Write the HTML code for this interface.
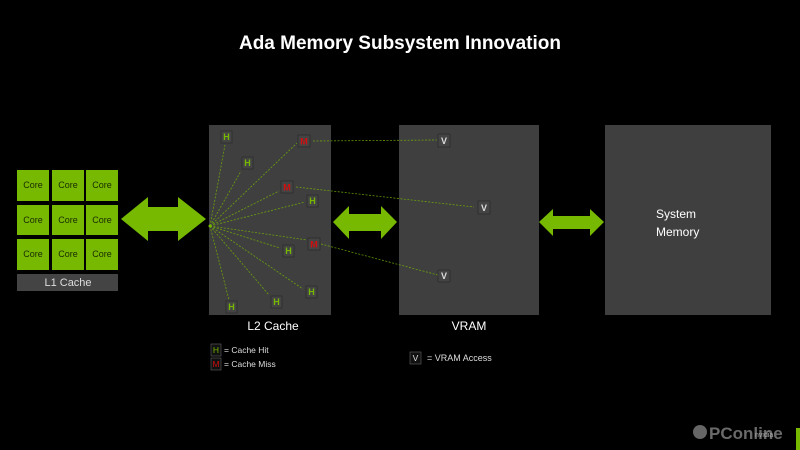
<!DOCTYPE html>
<html><head><meta charset="utf-8"><style>
html,body{margin:0;padding:0;background:#000;}
svg{display:block;font-family:"Liberation Sans",sans-serif;}
</style></head><body>
<svg width="800" height="450" viewBox="0 0 800 450" xmlns="http://www.w3.org/2000/svg">
<rect width="800" height="450" fill="#000"/>
<text x="400" y="49" fill="#fff" font-size="19" font-weight="bold" text-anchor="middle">Ada Memory Subsystem Innovation</text>
<g fill="#76b900">
<rect x="17" y="170" width="32" height="31"/><rect x="52" y="170" width="32" height="31"/><rect x="86" y="170" width="32" height="31"/>
<rect x="17" y="205" width="32" height="30"/><rect x="52" y="205" width="32" height="30"/><rect x="86" y="205" width="32" height="30"/>
<rect x="17" y="239" width="32" height="31"/><rect x="52" y="239" width="32" height="31"/><rect x="86" y="239" width="32" height="31"/>
</g>
<g fill="#1a2a00" font-size="9" text-anchor="middle">
<text x="33" y="188">Core</text><text x="68" y="188">Core</text><text x="102" y="188">Core</text>
<text x="33" y="223">Core</text><text x="68" y="223">Core</text><text x="102" y="223">Core</text>
<text x="33" y="257">Core</text><text x="68" y="257">Core</text><text x="102" y="257">Core</text>
</g>
<rect x="17" y="274" width="101" height="17" fill="#444"/>
<text x="68" y="286" fill="#ddd" font-size="11" text-anchor="middle">L1 Cache</text>
<polygon fill="#76b900" points="121,219 148,197 148,207 178,207 178,197 206,219 178,241 178,231 148,231 148,241"/>
<polygon fill="#76b900" points="333,222 349,206 349,214 381,214 381,206 397,222 381,239 381,231 349,231 349,239"/>
<polygon fill="#76b900" points="539,222 553,209 553,216 590,216 590,209 604,222 590,236 590,229 553,229 553,236"/>
<rect x="209" y="125" width="122" height="190" fill="#3f3f3f"/>
<rect x="399" y="125" width="140" height="190" fill="#3f3f3f"/>
<rect x="605" y="125" width="166" height="190" fill="#3f3f3f"/>
<text x="656" y="218" fill="#fff" font-size="12">System</text>
<text x="656" y="236" fill="#fff" font-size="12">Memory</text>
<text x="273" y="330" fill="#fff" font-size="12" text-anchor="middle">L2 Cache</text>
<text x="469" y="330" fill="#fff" font-size="12" text-anchor="middle">VRAM</text>
<g stroke="#76b900" stroke-width="0.8" stroke-dasharray="2,1.5" opacity="0.8" fill="none">
<line x1="210" y1="226" x2="225" y2="145"/>
<line x1="210" y1="226" x2="297" y2="143"/>
<line x1="210" y1="226" x2="241" y2="171"/>
<line x1="210" y1="226" x2="279" y2="191"/>
<line x1="210" y1="226" x2="305" y2="202"/>
<line x1="210" y1="226" x2="307" y2="240"/>
<line x1="210" y1="226" x2="280" y2="248"/>
<line x1="210" y1="226" x2="303" y2="289"/>
<line x1="210" y1="226" x2="229" y2="300"/>
<line x1="210" y1="226" x2="269" y2="295"/>
<line x1="313" y1="141" x2="437" y2="140"/>
<line x1="296" y1="187" x2="474" y2="207"/>
<line x1="321" y1="244" x2="438" y2="275"/>
</g>
<circle cx="210" cy="226" r="1.5" fill="#76b900"/>
<g font-size="9" font-weight="bold" text-anchor="middle">
<g fill="#444" stroke="#2a2a2a" stroke-width="0.7">
<rect x="221" y="131" width="11" height="12"/><rect x="298" y="135" width="12" height="12"/>
<rect x="242" y="157" width="11" height="12"/><rect x="281" y="181" width="12" height="12"/>
<rect x="307" y="195" width="11" height="12"/><rect x="308" y="238" width="12" height="12"/>
<rect x="283" y="245" width="11" height="12"/><rect x="306" y="286" width="11" height="12"/>
<rect x="226" y="301" width="11" height="12"/><rect x="271" y="296" width="11" height="12"/>
<rect x="438" y="134" width="12" height="13"/><rect x="478" y="201" width="12" height="13"/>
<rect x="438" y="270" width="12" height="12"/>
</g>
<text x="226.5" y="140" fill="#76b900">H</text><text x="304" y="144.5" fill="#d01010">M</text>
<text x="247.5" y="166" fill="#76b900">H</text><text x="287" y="190.5" fill="#d01010">M</text>
<text x="312.5" y="204" fill="#76b900">H</text><text x="314" y="247.5" fill="#d01010">M</text>
<text x="288.5" y="254" fill="#76b900">H</text><text x="311.5" y="295" fill="#76b900">H</text>
<text x="231.5" y="310" fill="#76b900">H</text><text x="276.5" y="305" fill="#76b900">H</text>
<text x="444" y="144" fill="#ddd">V</text><text x="484" y="211" fill="#ddd">V</text>
<text x="444" y="279" fill="#ddd">V</text>
</g>
<g font-size="8.5">
<rect x="211" y="344" width="10" height="12" fill="#111" stroke="#555" stroke-width="0.7"/>
<text x="216" y="353" fill="#76b900" text-anchor="middle">H</text>
<text x="224" y="353" fill="#ddd">=  Cache Hit</text>
<rect x="211" y="358" width="10" height="12" fill="#111" stroke="#555" stroke-width="0.7"/>
<text x="216" y="367" fill="#d01010" text-anchor="middle">M</text>
<text x="224" y="367" fill="#ddd">=  Cache Miss</text>
<rect x="410" y="352" width="11" height="12" fill="#111" stroke="#555" stroke-width="0.7"/>
<text x="415.5" y="361" fill="#ddd" text-anchor="middle">V</text>
<text x="427" y="361" fill="#ddd" font-size="9">= VRAM Access</text>
</g>
<circle cx="700" cy="432" r="7" fill="#666"/>
<text x="709" y="439" fill="#6a6a6a" font-size="17" font-weight="bold">PConline</text>
<text x="755" y="437" fill="#aaa" font-size="7">nvidia</text>
<rect x="796" y="428" width="4" height="22" fill="#76b900"/>
</svg>
</body></html>
